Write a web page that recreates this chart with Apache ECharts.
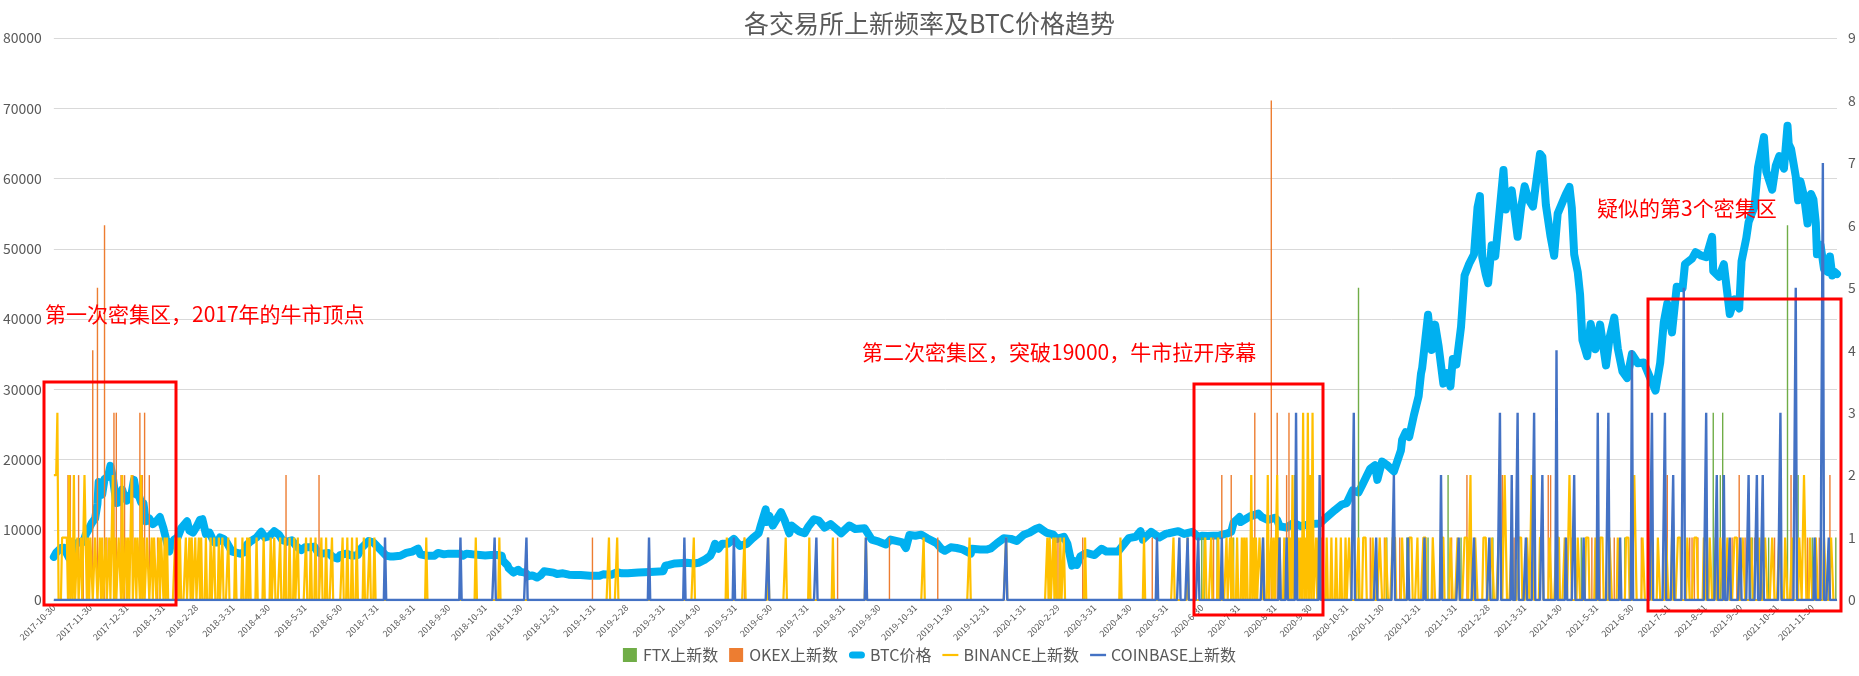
<!DOCTYPE html>
<html><head><meta charset="utf-8">
<script src="https://cdn.jsdelivr.net/npm/echarts@6/dist/echarts.min.js"></script>
<style>html,body{margin:0;padding:0;background:#fff}#c{width:1859px;height:676px}</style>
</head><body><div id="c"></div>
<script>
const START = '2017-10-30', END = '2021-12-21';
const tickLabels = ['2017-10-30','2017-11-30','2017-12-31','2018-1-31','2018-2-28','2018-3-31','2018-4-30','2018-5-31','2018-6-30','2018-7-31','2018-8-31','2018-9-30','2018-10-31','2018-11-30','2018-12-31','2019-1-31','2019-2-28','2019-3-31','2019-4-30','2019-5-31','2019-6-30','2019-7-31','2019-8-31','2019-9-30','2019-10-31','2019-11-30','2019-12-31','2020-1-31','2020-2-29','2020-3-31','2020-4-30','2020-5-31','2020-6-30','2020-7-31','2020-8-31','2020-9-30','2020-10-31','2020-11-30','2020-12-31','2021-1-31','2021-2-28','2021-3-31','2021-4-30','2021-5-31','2021-6-30','2021-7-31','2021-8-31','2021-9-30','2021-10-31','2021-11-30'];

const btcPrice = [
['2017-10-30',6130],['2017-11-1',6750],['2017-11-5',7400],['2017-11-8',7450],['2017-11-10',6600],['2017-11-12',5950],['2017-11-14',6600],['2017-11-17',7800],['2017-11-20',8250],['2017-11-24',8250],['2017-11-26',9300],['2017-11-28',9900],['2017-12-1',10900],['2017-12-4',11600],['2017-12-6',13700],['2017-12-7',16800],['2017-12-8',16200],['2017-12-10',15000],['2017-12-12',17200],['2017-12-15',17600],['2017-12-17',19100],['2017-12-19',17500],['2017-12-22',13800],['2017-12-24',13900],['2017-12-27',15700],['2017-12-29',14600],['2017-12-31',14150],
['2018-1-2',14800],['2018-1-4',15200],['2018-1-6',17100],['2018-1-8',15000],['2018-1-10',14900],['2018-1-12',13900],['2018-1-14',13800],['2018-1-16',11200],['2018-1-19',11600],['2018-1-22',10800],['2018-1-25',11200],['2018-1-28',11800],['2018-1-31',10200],['2018-2-2',8800],['2018-2-5',6900],['2018-2-6',7700],['2018-2-9',8600],['2018-2-12',8900],['2018-2-15',10200],['2018-2-20',11200],['2018-2-22',9900],['2018-2-25',9600],['2018-2-28',10400],['2018-3-3',11400],['2018-3-5',11500],['2018-3-8',9400],['2018-3-11',9600],['2018-3-15',8200],['2018-3-18',8200],['2018-3-20',8900],['2018-3-23',8700],['2018-3-26',8100],['2018-3-30',6900],['2018-4-1',6800],['2018-4-6',6600],['2018-4-10',6800],['2018-4-12',7900],['2018-4-15',8350],['2018-4-20',8900],['2018-4-24',9700],['2018-4-27',8900],['2018-5-1',9100],['2018-5-5',9800],['2018-5-9',9300],['2018-5-12',8500],['2018-5-16',8300],['2018-5-20',8500],['2018-5-24',7600],['2018-5-28',7100],['2018-5-31',7500],['2018-6-4',7500],['2018-6-8',7600],['2018-6-11',6800],['2018-6-14',6600],['2018-6-20',6700],['2018-6-24',6100],['2018-6-28',5900],['2018-6-30',6400],['2018-7-5',6600],['2018-7-10',6300],['2018-7-15',6400],['2018-7-18',7400],['2018-7-24',8400],['2018-7-28',8200],['2018-7-31',7700],['2018-8-4',7000],['2018-8-8',6300],['2018-8-11',6200],['2018-8-14',6200],['2018-8-20',6300],['2018-8-25',6700],['2018-8-30',6900],['2018-9-4',7300],['2018-9-6',6500],['2018-9-12',6300],['2018-9-18',6300],['2018-9-21',6700],['2018-9-26',6500],['2018-9-30',6600],['2018-10-10',6600],['2018-10-12',6300],['2018-10-15',6600],['2018-10-20',6500],['2018-10-31',6350],['2018-11-5',6400],['2018-11-10',6400],['2018-11-14',6300],['2018-11-15',5600],['2018-11-19',4900],['2018-11-20',4500],['2018-11-24',3900],['2018-11-25',4000],['2018-11-28',4300],['2018-11-30',4000],['2018-12-4',3900],['2018-12-7',3400],['2018-12-10',3500],['2018-12-14',3200],['2018-12-17',3500],['2018-12-20',4100],['2018-12-24',4000],['2018-12-28',3900],['2018-12-31',3700],
['2019-1-5',3800],['2019-1-10',3600],['2019-1-15',3550],['2019-1-20',3550],['2019-1-28',3450],['2019-2-5',3450],['2019-2-8',3650],['2019-2-15',3600],['2019-2-20',3950],['2019-2-24',3800],['2019-3-1',3800],['2019-3-10',3900],['2019-3-20',4000],['2019-3-31',4100],['2019-4-2',4900],['2019-4-5',5000],['2019-4-10',5200],['2019-4-20',5300],['2019-4-26',5200],['2019-4-30',5300],['2019-5-5',5700],['2019-5-10',6300],['2019-5-12',7000],['2019-5-14',8000],['2019-5-17',7300],['2019-5-20',8000],['2019-5-25',8000],['2019-5-30',8700],['2019-6-4',7700],['2019-6-10',8000],['2019-6-15',8800],['2019-6-20',9500],['2019-6-22',10700],['2019-6-26',12900],['2019-6-27',11100],['2019-6-29',12000],['2019-7-2',10600],['2019-7-9',12500],['2019-7-12',11400],['2019-7-16',9500],['2019-7-18',10600],['2019-7-24',9800],['2019-7-29',9500],['2019-8-1',10400],['2019-8-6',11500],['2019-8-10',11300],['2019-8-15',10300],['2019-8-20',10800],['2019-8-25',10100],['2019-8-29',9500],['2019-9-5',10600],['2019-9-10',10100],['2019-9-18',10200],['2019-9-24',8600],['2019-9-30',8300],['2019-10-6',7900],['2019-10-10',8600],['2019-10-20',8200],['2019-10-23',7400],['2019-10-25',8700],['2019-10-26',9250],['2019-10-31',9150],['2019-11-5',9300],['2019-11-10',8800],['2019-11-18',8100],['2019-11-22',7300],['2019-11-25',7000],['2019-11-30',7500],['2019-12-5',7400],['2019-12-10',7200],['2019-12-17',6600],['2019-12-18',7300],['2019-12-25',7200],['2019-12-31',7200],
['2020-1-3',7350],['2020-1-8',8050],['2020-1-14',8800],['2020-1-20',8700],['2020-1-25',8400],['2020-1-31',9300],['2020-2-5',9600],['2020-2-10',10100],['2020-2-13',10300],['2020-2-19',9600],['2020-2-25',9300],['2020-2-28',8700],['2020-3-5',9000],['2020-3-8',8000],['2020-3-12',4900],['2020-3-13',5600],['2020-3-16',5000],['2020-3-19',6200],['2020-3-24',6700],['2020-3-31',6400],['2020-4-6',7300],['2020-4-10',6900],['2020-4-20',6900],['2020-4-29',8800],['2020-5-5',9000],['2020-5-9',9800],['2020-5-11',8600],['2020-5-18',9700],['2020-5-25',8900],['2020-5-31',9450],['2020-6-2',9500],['2020-6-10',9800],['2020-6-15',9400],['2020-6-22',9700],['2020-6-27',9000],['2020-6-30',9150],['2020-7-5',9100],['2020-7-15',9200],['2020-7-22',9500],['2020-7-25',9700],['2020-7-27',11000],['2020-8-1',11800],['2020-8-2',11100],['2020-8-10',11900],['2020-8-17',12300],['2020-8-20',11800],['2020-8-25',11400],['2020-8-31',11700],['2020-9-2',11400],['2020-9-4',10500],['2020-9-10',10300],['2020-9-16',11000],['2020-9-22',10500],['2020-9-30',10800],['2020-10-8',10900],['2020-10-12',11500],['2020-10-21',12800],['2020-10-27',13600],['2020-10-31',13800],['2020-11-5',15600],['2020-11-10',15300],['2020-11-13',16300],['2020-11-17',17700],['2020-11-20',18700],['2020-11-24',19200],['2020-11-26',17100],['2020-11-30',19700],['2020-12-5',19100],['2020-12-10',18300],['2020-12-16',21300],['2020-12-17',22800],['2020-12-20',23900],['2020-12-23',23200],['2020-12-27',26300],['2020-12-31',29000],
['2021-1-2',32200],['2021-1-3',33000],['2021-1-8',40600],['2021-1-11',35600],['2021-1-14',39200],['2021-1-17',36100],['2021-1-21',30800],['2021-1-24',32300],['2021-1-27',30400],['2021-1-29',34300],['2021-2-1',33500],['2021-2-5',38900],['2021-2-8',46200],['2021-2-12',47900],['2021-2-16',49200],['2021-2-19',55900],['2021-2-21',57500],['2021-2-23',48800],['2021-2-26',46300],['2021-2-28',45100],['2021-3-3',50500],['2021-3-6',48900],['2021-3-10',55900],['2021-3-13',61200],['2021-3-15',55600],['2021-3-18',57600],['2021-3-20',58300],['2021-3-25',51700],['2021-3-28',55900],['2021-3-31',58900],['2021-4-3',57100],['2021-4-7',56000],['2021-4-10',59800],['2021-4-13',63500],['2021-4-15',63100],['2021-4-18',56200],['2021-4-22',51700],['2021-4-25',49000],['2021-4-28',55000],['2021-5-2',56600],['2021-5-5',57800],['2021-5-8',58800],['2021-5-10',55800],['2021-5-12',49200],['2021-5-15',46700],['2021-5-17',43500],['2021-5-19',37000],['2021-5-23',34700],['2021-5-26',39300],['2021-5-30',35700],['2021-6-3',39200],['2021-6-8',33400],['2021-6-11',37300],['2021-6-15',40200],['2021-6-18',35800],['2021-6-22',32500],['2021-6-26',31600],['2021-6-30',35000],['2021-7-5',33700],['2021-7-10',33800],['2021-7-15',31800],['2021-7-20',29800],['2021-7-24',33800],['2021-7-27',39500],['2021-7-30',42200],['2021-8-3',38100],['2021-8-7',44600],['2021-8-12',44400],['2021-8-14',47800],['2021-8-20',48600],['2021-8-23',49500],['2021-8-28',49000],['2021-9-1',48800],['2021-9-6',51700],['2021-9-7',46800],['2021-9-12',46000],['2021-9-16',47800],['2021-9-21',40700],['2021-9-25',42800],['2021-9-29',41500],['2021-10-1',48200],['2021-10-5',51500],['2021-10-7',53800],['2021-10-12',56000],['2021-10-15',61600],['2021-10-20',65900],['2021-10-22',61000],['2021-10-27',58400],['2021-10-30',61800],['2021-11-2',63200],['2021-11-6',61400],['2021-11-9',67500],['2021-11-10',64900],['2021-11-12',64200],['2021-11-16',60300],['2021-11-18',56900],['2021-11-20',59600],['2021-11-23',57500],['2021-11-26',53600],['2021-11-29',57800],['2021-12-1',57000],['2021-12-3',53700],['2021-12-4',49200],['2021-12-7',50600],['2021-12-10',47100],['2021-12-13',46700],['2021-12-15',48900],['2021-12-17',46200],['2021-12-19',46700],['2021-12-21',46400]
];

const ftxListings = [
['2020-6-30',1],['2020-7-2',1],['2020-7-13',1],['2020-7-27',1],['2020-9-17',2],['2020-11-10',5],['2020-12-4',1],['2020-12-21',1],['2021-1-8',1],['2021-1-25',2],['2021-2-5',1],['2021-3-4',1],['2021-4-9',1],['2021-5-18',1],['2021-6-24',1],['2021-6-29',1],
['2021-9-7',3],['2021-9-13',2],['2021-9-15',3],['2021-10-10',1],['2021-10-18',1],['2021-10-24',1],['2021-11-9',6],['2021-11-18',2],['2021-11-30',1],['2021-12-20',1]
];
const okexListings = [
['2017-11-11',2],['2017-11-13',2],['2017-11-20',2],['2017-11-24',1],['2017-12-2',4],['2017-12-6',5],['2017-12-12',6],['2017-12-14',1],['2017-12-20',3],['2017-12-22',3],['2017-12-26',2],['2017-12-29',2],
['2018-1-5',2],['2018-1-11',3],['2018-1-13',2],['2018-1-15',3],['2018-1-19',2],['2018-1-26',1],['2018-5-15',2],['2018-6-12',2],
['2019-1-30',1],['2019-6-8',1],['2019-8-26',1],['2019-10-9',1],['2019-11-19',1],
['2020-2-29',1],['2020-3-21',1],['2020-5-19',1],['2020-7-10',1],['2020-7-17',2],['2020-7-25',2],['2020-8-14',3],['2020-8-28',8],['2020-9-2',3],['2020-9-10',2],['2020-9-12',3],
['2020-11-20',1],['2020-12-2',1],['2020-12-15',1],['2021-1-12',1],['2021-1-28',1],['2021-2-10',2],['2021-3-12',2],['2021-3-22',1],['2021-4-20',2],['2021-4-22',2],['2021-5-10',1],['2021-5-27',1],['2021-6-3',1],['2021-6-15',1],['2021-7-8',1],['2021-7-30',2],['2021-8-18',1],['2021-8-20',1],['2021-8-22',1],['2021-8-25',1],['2021-9-23',1],['2021-9-27',1],['2021-9-29',2],['2021-10-4',1],['2021-10-12',1],['2021-10-29',1],['2021-11-12',2],['2021-11-26',1],['2021-12-6',1],['2021-12-15',2]
];
const binanceListings = [
['2017-10-30',2],['2017-10-31',2],['2017-11-1',2],['2017-11-2',3],['2017-11-6',1],['2017-11-7',1],['2017-11-8',1],['2017-11-9',1],['2017-11-10',1],['2017-11-12',2],['2017-11-14',1],['2017-11-16',2],['2017-11-19',1],['2017-11-22',1],['2017-11-25',2],['2017-11-26',1],['2017-11-28',1],['2017-11-30',1],['2017-12-1',1],['2017-12-4',1],['2017-12-5',1],['2017-12-8',1],['2017-12-10',1],['2017-12-13',1],['2017-12-16',1],['2017-12-18',1],['2017-12-19',2],['2017-12-21',1],['2017-12-24',1],['2017-12-25',1],['2017-12-27',2],['2017-12-30',1],
['2018-1-1',1],['2018-1-3',1],['2018-1-4',2],['2018-1-7',1],['2018-1-9',1],['2018-1-10',1],['2018-1-12',2],['2018-1-14',1],['2018-1-17',1],['2018-1-18',1],['2018-1-21',1],['2018-1-23',1],['2018-1-24',1],['2018-1-27',1],['2018-1-29',1],['2018-1-30',1],['2018-2-1',1],['2018-2-3',1],['2018-2-10',1],['2018-2-12',1],['2018-2-14',1],['2018-2-19',1],['2018-2-22',1],['2018-2-24',1],['2018-2-27',1],['2018-3-2',1],['2018-3-4',1],['2018-3-8',1],['2018-3-12',1],['2018-3-15',1],['2018-3-19',1],['2018-3-22',1],['2018-3-27',1],['2018-4-2',1],['2018-4-8',1],['2018-4-12',1],['2018-4-14',1],['2018-4-20',1],['2018-4-26',1],['2018-5-2',1],['2018-5-5',1],['2018-5-10',1],['2018-5-14',1],['2018-5-18',1],['2018-5-22',1],['2018-5-25',1],['2018-6-1',1],['2018-6-5',1],['2018-6-9',1],['2018-6-14',1],['2018-6-18',1],['2018-6-23',1],['2018-7-2',1],['2018-7-6',1],['2018-7-10',1],['2018-7-14',1],['2018-7-20',1],['2018-7-25',1],['2018-7-29',1],
['2018-9-11',1],['2018-10-23',1],['2018-11-12',1],['2019-2-13',1],['2019-2-20',1],['2019-4-26',1],['2019-5-24',1],['2019-6-8',1],['2019-6-28',1],['2019-7-13',1],['2019-8-2',1],['2019-8-22',1],['2019-9-19',1],['2019-11-7',1],['2019-12-16',1],['2020-1-16',1],['2020-2-20',1],['2020-2-22',1],['2020-2-25',1],['2020-2-27',1],['2020-3-2',1],['2020-3-5',1],['2020-3-23',1],['2020-4-22',1],['2020-5-12',1],['2020-6-6',1],['2020-6-18',1],
['2020-7-3',1],['2020-7-8',1],['2020-7-14',1],['2020-7-21',1],['2020-7-24',1],['2020-7-26',1],['2020-7-30',1],['2020-8-3',1],['2020-8-5',1],['2020-8-7',1],['2020-8-11',2],['2020-8-13',1],['2020-8-15',1],['2020-8-18',1],['2020-8-19',1],['2020-8-21',1],['2020-8-25',2],['2020-8-28',1],['2020-8-30',1],['2020-9-2',2],['2020-9-4',1],['2020-9-8',1],['2020-9-11',1],['2020-9-13',1],['2020-9-15',2],['2020-9-17',1],['2020-9-20',1],['2020-9-22',1],['2020-9-24',3],['2020-9-26',1],['2020-9-28',3],['2020-9-30',2],['2020-10-2',3],['2020-10-5',1],['2020-10-7',1],['2020-10-10',1],['2020-10-14',1],['2020-10-18',1],['2020-10-22',1],['2020-10-26',1],['2020-10-30',1],
['2020-11-2',1],['2020-11-3',1],['2020-11-10',1],['2020-11-14',1],['2020-11-15',1],['2020-11-16',1],['2020-11-22',1],['2020-11-23',1],['2020-11-28',1],['2020-11-29',1],['2020-12-3',1],['2020-12-4',1],['2020-12-9',1],['2020-12-10',1],['2020-12-11',1],['2020-12-17',1],['2020-12-18',1],['2020-12-23',1],['2020-12-24',1],['2020-12-25',1],['2020-12-30',1],
['2021-1-4',1],['2021-1-5',1],['2021-1-6',1],['2021-1-12',1],['2021-1-13',1],['2021-1-19',1],['2021-1-20',1],['2021-1-21',1],['2021-1-27',1],['2021-1-28',1],['2021-2-2',1],['2021-2-3',1],['2021-2-8',1],['2021-2-9',1],['2021-2-10',1],['2021-2-13',2],['2021-2-17',1],['2021-2-18',1],['2021-2-24',1],['2021-2-25',1],['2021-2-26',1],['2021-3-3',1],['2021-3-4',1],['2021-3-9',1],['2021-3-10',1],['2021-3-11',1],['2021-3-14',2],['2021-3-15',1],['2021-3-20',1],['2021-3-21',1],['2021-3-26',1],['2021-3-27',1],['2021-3-28',1],['2021-4-2',1],['2021-4-3',1],['2021-4-6',2],['2021-4-7',1],['2021-4-13',1],['2021-4-14',1],['2021-4-15',1],['2021-4-21',1],['2021-4-22',1],['2021-4-27',1],['2021-4-28',1],['2021-4-29',1],['2021-5-4',1],['2021-5-5',1],['2021-5-8',2],['2021-5-9',1],['2021-5-15',1],['2021-5-16',1],['2021-5-22',1],['2021-5-23',1],['2021-5-24',1],['2021-5-30',1],['2021-6-3',1],['2021-6-4',1],['2021-6-5',1],['2021-6-11',1],['2021-6-12',1],['2021-6-18',1],['2021-6-19',1],['2021-6-25',1],['2021-6-26',1],['2021-6-27',1],
['2021-7-2',2],['2021-7-3',1],['2021-7-9',1],['2021-7-10',1],['2021-7-16',1],['2021-7-22',1],['2021-7-23',1],['2021-7-29',1],['2021-7-30',1],['2021-8-3',1],['2021-8-8',1],['2021-8-9',1],['2021-8-10',1],['2021-8-16',1],['2021-8-17',1],['2021-8-22',1],['2021-8-23',1],['2021-8-24',1],['2021-8-30',1],['2021-8-31',1],['2021-9-4',1],['2021-9-5',1],['2021-9-9',1],['2021-9-13',1],['2021-9-14',1],['2021-9-19',1],['2021-9-20',1],['2021-9-25',1],['2021-9-26',1],['2021-9-27',1],['2021-10-2',1],['2021-10-3',1],['2021-10-9',1],['2021-10-10',1],['2021-10-16',1],['2021-10-21',1],['2021-10-22',1],['2021-10-27',1],['2021-10-28',1],['2021-11-2',1],['2021-11-3',1],['2021-11-7',1],['2021-11-8',1],['2021-11-13',1],['2021-11-19',1],['2021-11-20',1],['2021-11-23',2],['2021-11-24',1],['2021-11-28',1],['2021-11-29',1],['2021-12-3',1],['2021-12-4',1],['2021-12-10',1],['2021-12-11',1],['2021-12-16',1],['2021-12-17',1]
];
const coinbaseListings = [
['2018-8-7',1],['2018-10-10',1],['2018-11-8',1],['2018-12-5',1],['2019-3-19',1],['2019-4-18',1],['2019-5-30',1],['2019-6-28',1],['2019-8-8',1],['2019-9-19',1],['2020-1-16',1],['2020-5-23',1],['2020-6-11',1],['2020-6-18',1],['2020-6-27',1],['2020-7-17',1],['2020-8-21',1],['2020-9-4',1],['2020-9-10',1],['2020-9-18',3],['2020-10-8',2],['2020-11-6',3],
['2020-11-25',1],['2020-12-10',2],['2020-12-22',1],['2021-1-5',1],['2021-1-19',2],['2021-2-3',1],['2021-2-16',1],['2021-3-1',1],['2021-3-10',3],['2021-3-20',2],['2021-3-25',3],['2021-4-1',1],['2021-4-8',3],['2021-4-15',2],['2021-4-27',4],['2021-5-5',1],['2021-5-12',2],['2021-5-20',1],['2021-6-1',3],['2021-6-10',3],['2021-6-20',1],['2021-6-30',4],['2021-7-17',3],['2021-7-28',3],['2021-8-4',2],['2021-8-13',5],['2021-9-1',3],['2021-9-10',2],['2021-9-16',2],['2021-9-21',1],['2021-9-30',1],['2021-10-7',2],['2021-10-14',2],['2021-10-19',2],['2021-11-3',3],['2021-11-16',5],['2021-12-2',1],['2021-12-9',7],['2021-12-14',1]
];

// ---- build ----
function fmt(d){return d.getUTCFullYear()+'-'+(d.getUTCMonth()+1)+'-'+d.getUTCDate();}
function parse(s){const p=s.split('-').map(Number);return new Date(Date.UTC(p[0],p[1]-1,p[2]));}
const categories=[];
for(let t=parse(START).getTime(), e=parse(END).getTime(); t<=e; t+=86400000){categories.push(fmt(new Date(t)));}
function daily(events){const m=new Map(events);return categories.map(c=>m.has(c)?m.get(c):0);}
const tickSet=new Set(tickLabels);
const FONT='"Noto Sans CJK SC","Noto Sans",sans-serif';
const GRAY='#595959';

const chart=echarts.init(document.getElementById('c'),null,{renderer:'canvas'});
chart.setOption({
  animation:false,
  backgroundColor:'#ffffff',
  textStyle:{fontFamily:FONT},
  title:{text:'各交易所上新频率及BTC价格趋势',left:'center',top:6,textStyle:{fontSize:25,fontWeight:'normal',color:GRAY,fontFamily:FONT}},
  grid:{left:48,right:22,top:38,bottom:76,containLabel:false},
  legend:{top:642,left:'center',itemGap:11,itemWidth:16,itemHeight:14,symbolKeepAspect:true,textStyle:{fontSize:16,color:GRAY,fontFamily:FONT},
    data:[
      {name:'FTX上新数',icon:'path://M0,0h10v10h-10z',itemStyle:{color:'#70AD47'}},
      {name:'OKEX上新数',icon:'path://M0,0h10v10h-10z',itemStyle:{color:'#ED7D31'}},
      {name:'BTC价格',icon:'path://M3.5,0h9a3.5,3.5 0 0 1 0,7h-9a3.5,3.5 0 0 1 0,-7z',itemStyle:{color:'#00B0F0'}},
      {name:'BINANCE上新数',icon:'path://M0,0h16v2.2h-16z',itemStyle:{color:'#FFC000'}},
      {name:'COINBASE上新数',icon:'path://M0,0h16v2.4h-16z',itemStyle:{color:'#4472C4'}}
    ]},
  xAxis:{type:'category',data:categories,boundaryGap:false,
    axisLine:{show:true,lineStyle:{color:'#D9D9D9'}},axisTick:{show:false},
    axisLabel:{interval:(i,v)=>tickSet.has(v),rotate:45,fontSize:9,color:GRAY,margin:6,fontFamily:FONT},
    splitLine:{show:false}},
  yAxis:[
    {type:'value',min:0,max:80000,interval:10000,position:'left',axisLine:{show:false},axisTick:{show:false},
      axisLabel:{fontSize:14,color:GRAY,margin:12,fontFamily:FONT,formatter:v=>String(v)},splitLine:{show:true,lineStyle:{color:'#D9D9D9',width:1}}},
    {type:'value',min:0,max:9,interval:1,position:'right',axisLine:{show:false},axisTick:{show:false},
      axisLabel:{fontSize:14,color:GRAY,margin:11,fontFamily:FONT,formatter:v=>String(v)},splitLine:{show:false}}
  ],
  series:[
    {name:'FTX上新数',type:'bar',yAxisIndex:1,data:ftxListings,barWidth:1.4,barGap:'-100%',itemStyle:{color:'#70AD47'},z:3},
    {name:'OKEX上新数',type:'bar',yAxisIndex:1,data:okexListings,barWidth:1.4,barGap:'-100%',itemStyle:{color:'#ED7D31'},z:3},
    {name:'BTC价格',type:'line',yAxisIndex:0,data:btcPrice,symbol:'none',lineStyle:{color:'#00B0F0',width:8,cap:'round',join:'round'},itemStyle:{color:'#00B0F0'},z:2},
    {name:'BINANCE上新数',type:'line',yAxisIndex:1,data:daily(binanceListings),symbol:'none',lineStyle:{color:'#FFC000',width:2.2},itemStyle:{color:'#FFC000'},z:4},
    {name:'COINBASE上新数',type:'line',yAxisIndex:1,data:daily(coinbaseListings),symbol:'none',lineStyle:{color:'#4472C4',width:2.4},itemStyle:{color:'#4472C4'},z:5}
  ],
  graphic:[
    {type:'rect',shape:{x:44,y:382,width:132,height:223},style:{fill:'none',stroke:'#FF0000',lineWidth:3},z:100},
    {type:'rect',shape:{x:1194,y:384,width:129,height:231},style:{fill:'none',stroke:'#FF0000',lineWidth:3},z:100},
    {type:'rect',shape:{x:1648,y:299,width:193,height:312},style:{fill:'none',stroke:'#FF0000',lineWidth:3},z:100},
    {type:'text',x:45,y:314,style:{text:'第一次密集区，2017年的牛市顶点',fill:'#FF0000',fontSize:21,fontFamily:FONT,verticalAlign:'middle'},z:100},
    {type:'text',x:862,y:352,style:{text:'第二次密集区，突破19000，牛市拉开序幕',fill:'#FF0000',fontSize:21,fontFamily:FONT,verticalAlign:'middle'},z:100},
    {type:'text',x:1597,y:208,style:{text:'疑似的第3个密集区',fill:'#FF0000',fontSize:21,fontFamily:FONT,verticalAlign:'middle'},z:100}
  ]
});
</script></body></html>
